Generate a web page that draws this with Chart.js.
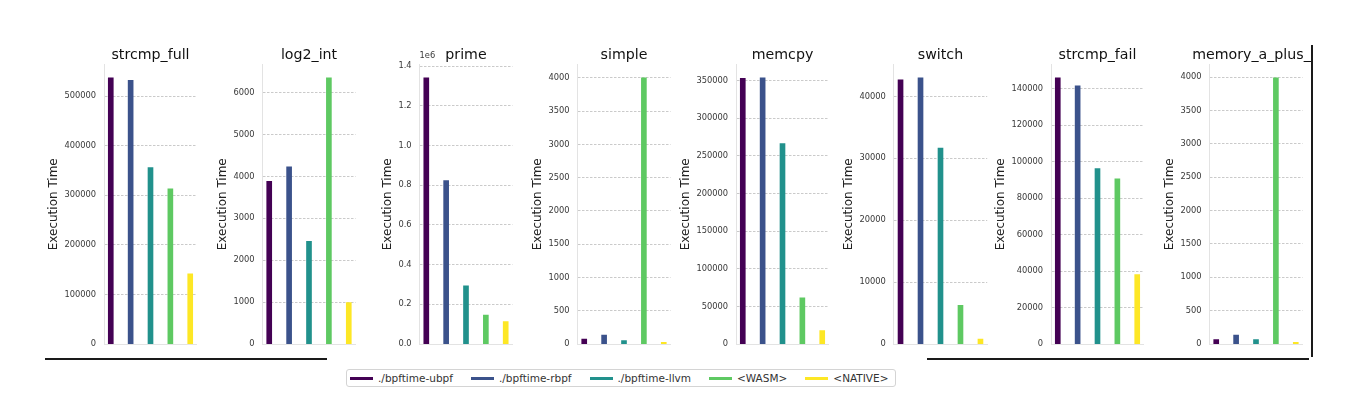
<!DOCTYPE html>
<html>
<head>
<meta charset="utf-8">
<script src="https://cdn.jsdelivr.net/npm/chart.js@4.4.1/dist/chart.umd.min.js"></script>
<style>
  html, body { margin: 0; padding: 0; background: #fff; }
  #fig { position: absolute; left: 0; top: 0; width: 1311px; height: 412px; overflow: hidden; }
  .panel { position: absolute; }
  .edge { position: absolute; background: #1a1a1a; }
  #legend {
    position: absolute; left: 346px; top: 369px; height: 18px;
    border: 1px solid #d4d4d4; border-radius: 3px; box-sizing: border-box;
    display: flex; align-items: center; padding: 0 7px 0 3px;
    font: 10.5px 'DejaVu Sans', sans-serif; color: #333; white-space: nowrap;
  }
  .item { display: flex; align-items: center; margin-right: 18px; }
  .item:last-child { margin-right: 0; }
  .swatch { width: 23px; height: 3px; margin-right: 5px; }
</style>
</head>
<body>
<div id="fig">
  <div id="legend"></div>
</div>
<div class="edge" style="left:45px; top:358px; width:282px; height:2px;"></div>
<div class="edge" style="left:927px; top:358px; width:382px; height:2px;"></div>
<div class="edge" style="left:1311px; top:45px; width:2px; height:312px;"></div>
<script>
// benchmarks and runtimes
var benchmarks = ['strcmp_full', 'log2_int', 'prime', 'simple', 'memcpy', 'switch', 'strcmp_fail', 'memory_a_plus_b'];
var runtimes = ['./bpftime-ubpf', './bpftime-rbpf', './bpftime-llvm', '<WASM>', '<NATIVE>'];
var colors = ['#440154', '#3b528b', '#21918c', '#5ec962', '#fde725'];

// execution time per benchmark, one array per runtime
var ubpf   = [537000, 3880, 1341000, 75, 352700, 42700, 145900, 65];
var rbpf   = [532000, 4230, 823000, 135, 353500, 43000, 141500, 135];
var llvm   = [355800, 2450, 293000, 50, 266200, 31640, 96100, 65];
var wasm   = [313300, 6350, 146000, 4000, 61200, 6240, 90500, 3990];
var native = [141500, 990, 113000, 24, 17700, 810, 38000, 25];

// y tick step per benchmark
var yStep = [100000, 1000, 200000, 500, 50000, 10000, 20000, 500];

var AXIS0 = 104.3, STEP = 157.86, PLOT_W = 93, PLOT_TOP = 64.3, PLOT_H = 279;
var FONT = "'DejaVu Sans', sans-serif";
var TICK_SIZE = 8.3, TICK_PAD = 8, YTITLE_SIZE = 12, YTITLE_PAD = 3;
Chart.defaults.font.family = FONT;

// matplotlib style "1e6" offset text above the y axis
Chart.register({
  id: 'offsetLabel',
  afterDraw: function (chart, args, opts) {
    if (!opts.text) return;
    var ctx = chart.ctx, a = chart.chartArea;
    ctx.save();
    ctx.font = TICK_SIZE + "px " + FONT;
    ctx.fillStyle = '#3a3a3a';
    ctx.textAlign = 'left';
    ctx.textBaseline = 'middle';
    ctx.fillText(opts.text, a.left, a.top - 9);
    ctx.restore();
  }
});

function makeConfig(i) {
  var vals = [ubpf[i], rbpf[i], llvm[i], wasm[i], native[i]];
  var top = Math.max.apply(null, vals) * 1.05;
  var exp = top >= 1e6 ? Math.floor(Math.log10(top)) : 0;
  var barW = 0.25, lo = -barW / 2, hi = vals.length - 1 + barW / 2, pad = 0.05 * (hi - lo);
  return {
    type: 'bar',
    data: {
      datasets: [{
        label: benchmarks[i],
        data: vals.map(function (v, k) { return { x: k, y: v }; }),
        backgroundColor: colors,
        borderWidth: 0,
        barThickness: 5
      }]
    },
    options: {
      responsive: false,
      maintainAspectRatio: false,
      animation: false,
      layout: { padding: 0 },
      plugins: {
        legend: { display: false },
        tooltip: { enabled: false },
        title: {
          display: true, text: benchmarks[i], color: '#111',
          font: { size: 14.2, weight: 'normal' },
          padding: { top: 0, bottom: 0.5 }
        },
        offsetLabel: { text: exp ? '1e' + exp : '' }
      },
      scales: {
        x: {
          type: 'linear', min: lo - pad, max: hi + pad, offset: false,
          ticks: { display: false },
          grid: { display: false, drawTicks: false, offset: false },
          border: { color: '#e3e3e3', width: 1 }
        },
        y: {
          min: 0, max: top,
          afterBuildTicks: function (s) {
            var t = [];
            for (var v = 0; v <= top; v += yStep[i]) t.push({ value: v });
            s.ticks = t;
          },
          // width = title + widest label + padding (no layout cap)
          afterFit: function (s) {
            var ctx = s.ctx, lw = 0;
            ctx.save();
            ctx.font = TICK_SIZE + 'px ' + FONT;
            s.ticks.forEach(function (t) { lw = Math.max(lw, ctx.measureText(String(t.label)).width); });
            ctx.restore();
            s.width = lw + TICK_PAD + YTITLE_SIZE * 1.2 + YTITLE_PAD;
          },
          ticks: {
            padding: TICK_PAD, color: '#3a3a3a', font: { size: TICK_SIZE },
            callback: function (v) { return exp ? (v / Math.pow(10, exp)).toFixed(1) : String(v); }
          },
          grid: {
            drawTicks: false, lineWidth: 0.8,
            color: function (c) { return c.tick && c.tick.value === 0 ? 'rgba(0,0,0,0)' : '#bdbdbd'; }
          },
          border: { color: '#e3e3e3', width: 1, dash: [2.5, 1.5] },
          title: {
            display: true, text: 'Execution Time', color: '#222',
            font: { size: YTITLE_SIZE }, padding: { top: 0, bottom: YTITLE_PAD }
          }
        },
        // empty right axis so the title centres over the plot
        yr: {
          type: 'linear', position: 'right', display: true,
          ticks: { display: false },
          grid: { display: false, drawTicks: false },
          border: { display: false },
          afterFit: function (s) { s.width = s.chart.scales.y.width; }
        }
      }
    }
  };
}

function draw(wrap, i, w, h) {
  wrap.innerHTML = '';
  var cv = document.createElement('canvas');
  cv.width = w; cv.height = h;
  wrap.appendChild(cv);
  return new Chart(cv, makeConfig(i));
}

var fig = document.getElementById('fig');
benchmarks.forEach(function (name, i) {
  var wrap = document.createElement('div');
  wrap.className = 'panel';
  fig.appendChild(wrap);
  var c = draw(wrap, i, 240, 330);
  var a = c.chartArea;
  var w = Math.round(240 - (a.right - a.left) + PLOT_W);
  var h = Math.round(330 - (a.bottom - a.top) + PLOT_H);
  c.destroy();
  c = draw(wrap, i, w, h);
  wrap.style.left = Math.round(AXIS0 + i * STEP - c.chartArea.left) + 'px';
  wrap.style.top = Math.round(PLOT_TOP - c.chartArea.top) + 'px';
});

// legend
var legend = document.getElementById('legend');
runtimes.forEach(function (r, k) {
  var item = document.createElement('div');
  item.className = 'item';
  var sw = document.createElement('span');
  sw.className = 'swatch';
  sw.style.background = colors[k];
  var tx = document.createElement('span');
  tx.textContent = r;
  item.appendChild(sw);
  item.appendChild(tx);
  legend.appendChild(item);
});
</script>
</body>
</html>
